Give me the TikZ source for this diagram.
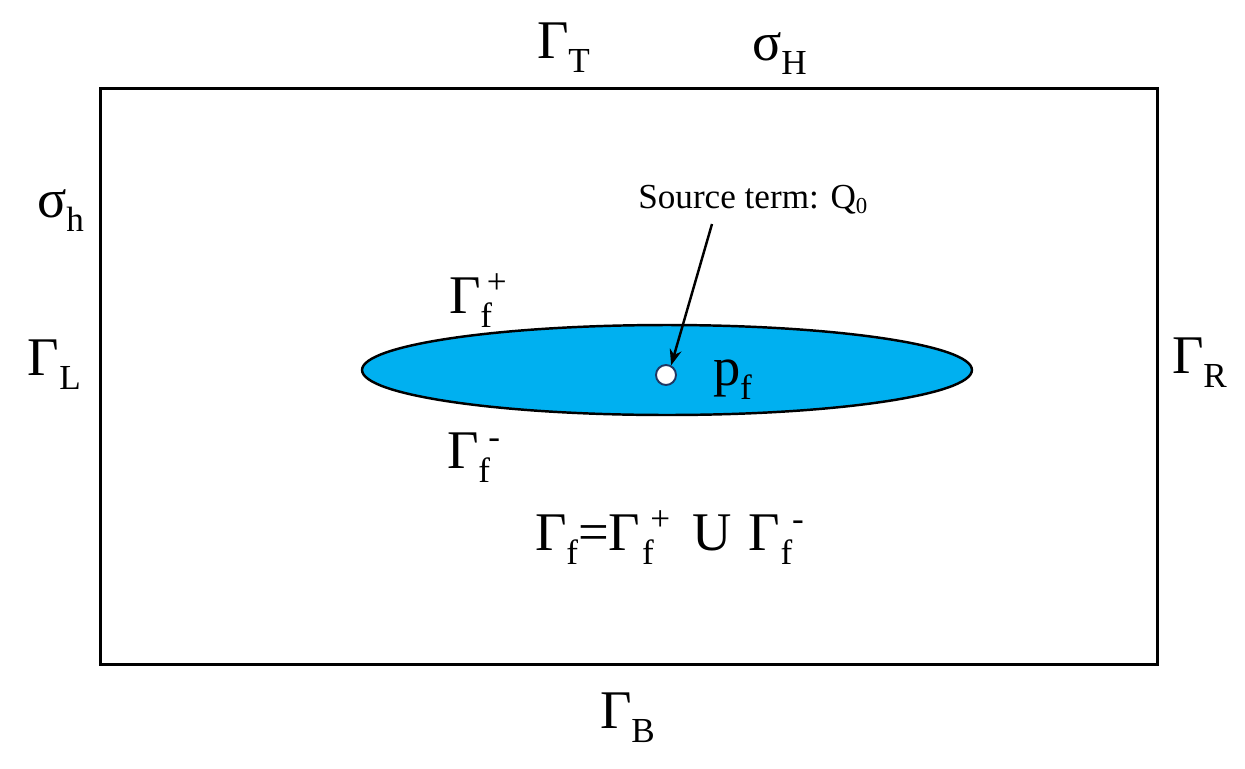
\documentclass[tikz,border=0pt]{standalone}
\usepackage{fontspec}
\setmainfont{Liberation Serif}
\usetikzlibrary{shapes.geometric,arrows.meta}
\definecolor{fracblue}{RGB}{0,176,240}
\definecolor{ringblue}{RGB}{31,56,100}
\newcommand{\bigf}{\fontsize{31}{34}\selectfont}
\newcommand{\lo}[1]{\raisebox{-8pt}{\fontsize{20}{22}\selectfont #1}}
\newcommand{\hi}[1]{\raisebox{11pt}{\fontsize{20}{22}\selectfont #1}}
\begin{document}
\begin{tikzpicture}[x=0.02cm,y=-0.02cm,
  lbl/.style={anchor=base west,inner sep=0pt,outer sep=0pt,font=\bigf},
  frame/.style={draw=black,line width=1.7pt},
  fracture/.style={ellipse,draw=black,fill=fracblue,line width=1.4pt,minimum width=12.2cm,minimum height=1.8cm,inner sep=0pt},
  ring/.style={circle,draw=ringblue,fill=white,line width=1.1pt,minimum size=0.4cm,inner sep=0pt},
  pointer/.style={draw=black,line width=1.4pt,-{Stealth[length=0.32cm,width=0.24cm]}}]
\useasboundingbox (0,0) rectangle (1245,768);
\node[frame,rectangle,minimum width=21.16cm,minimum height=11.54cm,inner sep=0pt] (box) at (629,376.5) {};
\node[fracture] (frac) at (667,370) {};
\node[ring] (src) at (666,375) {};
\node[lbl] (gT) at (537,58) {Γ\lo{T}};
\node[lbl] (sH) at (752,60) {σ\lo{H}};
\node[lbl] (sh) at (37,217) {σ\lo{h}};
\node[lbl] (gL) at (28,375) {Γ\lo{L}};
\node[lbl] (gR) at (1172,373) {Γ\lo{R}};
\node[lbl] (gB) at (600,728) {Γ\lo{B}};
\node[lbl] (gfp) at (449,313) {Γ\lo{f}\kern-3pt\hi{+}};
\node[lbl] (gfm) at (447,468) {Γ\lo{f}\kern-1pt\hi{-}};
\node[lbl] (pf) at (713,385) {p\lo{f}};
\node[lbl] (form) at (535,550) {Γ\lo{f}=Γ\kern1pt\lo{f}\kern-2pt\hi{+}\hspace{5pt} U\hspace{2pt} Γ\lo{f}\hi{-}};
\node[anchor=base west,inner sep=0pt,font=\fontsize{20}{22}\selectfont] (srclbl) at (638,208) {Source term: Q\raisebox{-3pt}{\fontsize{13}{15}\selectfont 0}};
\coordinate (arrtail) at (712,224);
\draw[pointer] (arrtail) -- (src.62);
\end{tikzpicture}
\end{document}
